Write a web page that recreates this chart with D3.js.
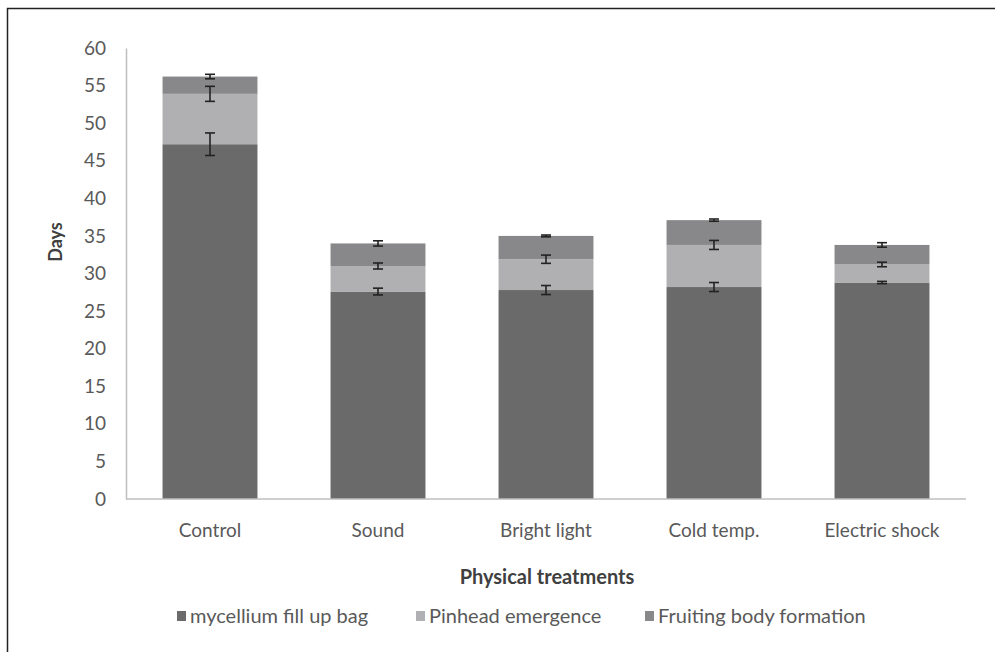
<!DOCTYPE html>
<html>
<head>
<meta charset="utf-8">
<script src="https://cdn.jsdelivr.net/npm/d3@7"></script>
<style>
  body { margin: 0; background: #fff; }
  text { font-family: Lato, "Open Sans", sans-serif; fill: #595959; }
</style>
</head>
<body>
<script>
// treatments and stacked stage durations (days)
var treatments = ['Control', 'Sound', 'Bright light', 'Cold temp.', 'Electric shock'];
var seriesNames = ['mycellium fill up bag', 'Pinhead emergence', 'Fruiting body formation'];
var mycelium = [47.2, 27.6, 27.8, 28.2, 28.8];
var pinhead = [6.7, 3.4, 4.1, 5.6, 2.4];
var fruiting = [2.3, 3.0, 3.1, 3.3, 2.6];
// error bar half-widths
var myceliumErr = [1.5, 0.45, 0.6, 0.6, 0.15];
var pinheadErr = [1.0, 0.4, 0.55, 0.6, 0.3];
var fruitingErr = [0.3, 0.35, 0.12, 0.15, 0.3];
var yTicks = [0, 5, 10, 15, 20, 25, 30, 35, 40, 45, 50, 55, 60];

var colors = ['#6a6a6b', '#b0b0b2', '#88888a'];

var width = 995;
var height = 652;

var svg = d3.select('body')
    .append('svg')
    .attr('width', width)
    .attr('height', height);

// outer frame (right and bottom edges fall outside the picture)
svg.append('rect')
    .attr('x', 7.5)
    .attr('y', 8.5)
    .attr('width', width + 10)
    .attr('height', height + 10)
    .attr('fill', 'none')
    .attr('stroke', '#222')
    .attr('stroke-width', 1.5);

var x = d3.scaleBand()
    .domain(treatments)
    .range([126, 966])
    .paddingInner(0.435)
    .paddingOuter(0.2175);

var y = d3.scaleLinear()
    .domain([0, 60])
    .range([499, 48]);

var rows = treatments.map(function(t, i) {
    return { name: t, mycelium: mycelium[i], pinhead: pinhead[i], fruiting: fruiting[i],
             errs: [myceliumErr[i], pinheadErr[i], fruitingErr[i]] };
});

var stack = d3.stack().keys(['mycelium', 'pinhead', 'fruiting']);
var layers = stack(rows);

var g = svg.append('g');

g.selectAll('g.layer')
    .data(layers)
    .enter()
    .append('g')
    .attr('class', 'layer')
    .attr('fill', function(d, i) { return colors[i]; })
    .selectAll('rect')
    .data(function(d) { return d; })
    .enter()
    .append('rect')
    .attr('x', function(d) { return x(d.data.name); })
    .attr('width', x.bandwidth())
    .attr('y', function(d) { return y(d[1]); })
    .attr('height', function(d) { return y(d[0]) - y(d[1]); });

// error bars at the top of each segment
var errData = [];
layers.forEach(function(layer, li) {
    layer.forEach(function(d) {
        errData.push({ name: d.data.name, top: d[1], err: d.data.errs[li] });
    });
});

var eb = g.selectAll('g.err')
    .data(errData)
    .enter()
    .append('g')
    .attr('class', 'err')
    .attr('stroke', '#222')
    .attr('stroke-width', 1.6);

eb.append('line')
    .attr('x1', function(d) { return x(d.name) + x.bandwidth() / 2; })
    .attr('x2', function(d) { return x(d.name) + x.bandwidth() / 2; })
    .attr('y1', function(d) { return y(d.top + d.err); })
    .attr('y2', function(d) { return y(d.top - d.err); });

[1, -1].forEach(function(s) {
    eb.append('line')
        .attr('x1', function(d) { return x(d.name) + x.bandwidth() / 2 - 5; })
        .attr('x2', function(d) { return x(d.name) + x.bandwidth() / 2 + 5; })
        .attr('y1', function(d) { return y(d.top + s * d.err); })
        .attr('y2', function(d) { return y(d.top + s * d.err); });
});

// axes
var yAxis = svg.append('g')
    .attr('transform', 'translate(126,0)')
    .call(d3.axisLeft(y).tickValues(yTicks).tickSize(0).tickPadding(20));
yAxis.select('.domain').attr('stroke', '#bfbfbf').attr('stroke-width', 1.5);
yAxis.selectAll('text')
    .style('font-size', '19px')
    .attr('fill', '#595959');

var xAxis = svg.append('g')
    .attr('transform', 'translate(0,499)')
    .call(d3.axisBottom(x).tickSize(0).tickPadding(25));
xAxis.select('.domain').attr('stroke', '#bfbfbf').attr('stroke-width', 1.5)
    .attr('d', 'M126,0H966');
xAxis.selectAll('text')
    .style('font-size', '19px')
    .attr('fill', '#595959');

// axis titles
svg.append('text')
    .attr('transform', 'translate(62,242) rotate(-90)')
    .attr('text-anchor', 'middle')
    .style('font-size', '18px')
    .style('font-weight', 'bold')
    .style('fill', '#404040')
    .text('Days');

svg.append('text')
    .attr('x', 547)
    .attr('y', 584)
    .attr('text-anchor', 'middle')
    .style('font-size', '20px')
    .style('font-weight', 'bold')
    .style('fill', '#404040')
    .text('Physical treatments');

// legend
var legendX = [177, 416, 645];
var legend = svg.selectAll('g.legend')
    .data(seriesNames)
    .enter()
    .append('g')
    .attr('class', 'legend')
    .attr('transform', function(d, i) { return 'translate(' + legendX[i] + ',611)'; });

legend.append('rect')
    .attr('width', 9)
    .attr('height', 10)
    .attr('fill', function(d, i) { return colors[i]; });

legend.append('text')
    .attr('x', 13)
    .attr('y', 12)
    .style('font-size', '20px')
    .text(function(d) { return d; });
</script>
</body>
</html>
